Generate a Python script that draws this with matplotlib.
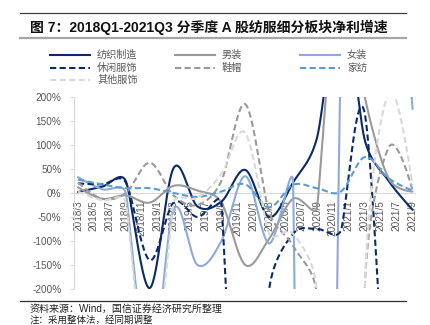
import numpy as np
import matplotlib
matplotlib.use("Agg")
import matplotlib.pyplot as plt
from matplotlib.lines import Line2D

# ---------------- data ----------------
quarters = ['2018Q1', '2018Q2', '2018Q3', '2018Q4', '2019Q1', '2019Q2', '2019Q3', '2019Q4',
            '2020Q1', '2020Q2', '2020Q3', '2020Q4', '2021Q1', '2021Q2', '2021Q3']
tick_labels = ['2018/3', '2018/5', '2018/7', '2018/9', '2018/11', '2019/1', '2019/3', '2019/5',
               '2019/7', '2019/9', '2019/11', '2020/1', '2020/3', '2020/5', '2020/7', '2020/9',
               '2020/11', '2021/1', '2021/3', '2021/5', '2021/7', '2021/9']

textile = [2, 13, 25, -198, 52, -28, -18, 48, -50, 22, 115, 400, 110, 25, -35]
menswear = [12, -12, -5, -20, 15, 5, -20, -150, -95, -12, -30, 500, 200, 30, 3]
womenswear = [33, 8, 0, -380, -35, -150, -100, 35, -105, 20, -3000, 300, 1500, 800, 175]
casual = [20, 18, 22, -140, -20, -50, -20, -800, -200, -85, -75, -78, 165, -600, -600]
shoes = [22, -12, 0, 63, -5, -25, 25, 185, -40, -110, -220, -3000, -200, 95, 5]
home = [28, 18, 10, 10, 0, -8, 3, 18, -30, 17, 10, 3, 75, 30, 5]
other = [3, -15, -20, -400, -20, -10, 40, 125, -85, -85, -210, -3000, -200, 210, 15]

series_names = ['纺织制造', '男装', '女装', '休闲服饰', '鞋帽', '家纺', '其他服饰']
series_values = [textile, menswear, womenswear, casual, shoes, home, other]
series_colors = ['#0a2a6b', '#9a9a9a', '#8eaadb', '#0a2a6b', '#9a9a9a', '#5b9bd5', '#d9d9d9']
series_dashed = [False, False, False, True, True, True, True]

# ---------------- figure ----------------
W, H = 430, 325
fig = plt.figure(figsize=(W / 100, H / 100), dpi=100)
ax_l, ax_r, ax_t, ax_b = 74, 415, 97, 289
ax = fig.add_axes([ax_l / W, 1 - ax_b / H, (ax_r - ax_l) / W, (ax_b - ax_t) / H])

xmin, xmax = -0.5, 42.3
ymin, ymax = -200, 200
ax.set_xlim(xmin, xmax)
ax.set_ylim(ymin, ymax)
sx = (ax_r - ax_l) / (xmax - xmin)
sy = (ax_b - ax_t) / (ymax - ymin)

xq = np.arange(len(quarters)) * 3.0  # months since 2018/3


def smooth(xv, yv, n=300):
    P = np.column_stack([np.asarray(xv, float) * sx, np.asarray(yv, float) * sy])
    N = len(P)
    T = np.zeros_like(P)
    for i in range(1, N - 1):
        a, b, c = P[i - 1], P[i], P[i + 1]
        d01 = np.hypot(*(b - a))
        d12 = np.hypot(*(c - b))
        d02 = np.hypot(*(c - a))
        if d02 == 0:
            continue
        f = 1 / 6
        if d02 / 6 >= min(d01, d12) / 2:
            f = min(d01, d12) / (2 * d02)
        T[i] = f * (c - a)
    t = np.linspace(0, 1, n)[:, None]
    pts = []
    for i in range(N - 1):
        p0, p3 = P[i], P[i + 1]
        p1, p2 = p0 + T[i], p3 - T[i + 1]
        B = (1 - t) ** 3 * p0 + 3 * (1 - t) ** 2 * t * p1 + 3 * (1 - t) * t ** 2 * p2 + t ** 3 * p3
        pts.append(B if i == 0 else B[1:])
    B = np.vstack(pts)
    return B[:, 0] / sx, B[:, 1] / sy


handles = {}
for name, vals, col, dashed in zip(series_names, series_values, series_colors, series_dashed):
    xs, ys = smooth(xq, vals)
    ls = (0, (3, 1.6)) if dashed else '-'
    ax.plot(xs, ys, color=col, lw=1.5, linestyle=ls, zorder=3, solid_capstyle='round')
    handles[name] = (col, ls)

# axes styling
for s in ['top', 'right']:
    ax.spines[s].set_visible(False)
ax.spines['left'].set_color('#d9d9d9')
ax.spines['bottom'].set_color('#d9d9d9')
ax.spines['bottom'].set_position(('data', 0))
ax.set_axisbelow(True)

num_font = ['Liberation Sans', 'DejaVu Sans']
yt = np.arange(-200, 201, 50)
ax.set_yticks(yt)
ax.set_yticklabels([f'{v}%' for v in yt], fontsize=7.2, color='#595959', family=num_font)
ax.tick_params(axis='y', length=3, color='#d9d9d9', pad=6)

ax.set_xticks(np.arange(len(tick_labels)) * 2)
ax.set_xticklabels(tick_labels, rotation=90, fontsize=7.2, color='#595959', family=num_font)
ax.tick_params(axis='x', length=0, pad=5)

# ---------------- title & frame lines ----------------
def hline(y, color, lw):
    fig.add_artist(Line2D([20 / W, 406 / W], [1 - y / H, 1 - y / H], color=color, lw=lw,
                          transform=fig.transFigure))

hline(13, '#404040', 0.9)
hline(38, '#a6a6a6', 1.6)
hline(301, '#303030', 0.9)

cjk = ['Liberation Sans', 'Noto Sans CJK SC']
fig.text(30 / W, 1 - 27 / H, '图 7：2018Q1-2021Q3 分季度 A 股纺服细分板块净利增速',
         fontsize=10.0, fontweight='bold', family=cjk, va='center', ha='left', color='#111111')

# ---------------- legend ----------------
leg_items = [('纺织制造', 50, 55), ('男装', 175, 55), ('女装', 300, 55),
             ('休闲服饰', 50, 68), ('鞋帽', 175, 68), ('家纺', 300, 68),
             ('其他服饰', 50, 80)]
for name, x0, y0 in leg_items:
    col, ls = handles[name]
    fig.add_artist(Line2D([x0 / W, (x0 + 40) / W], [1 - y0 / H, 1 - y0 / H], color=col, lw=1.5,
                          linestyle=ls, transform=fig.transFigure))
    fig.text((x0 + 47) / W, 1 - y0 / H, name, fontsize=7.3, family=['Noto Sans CJK SC'],
             va='center', ha='left', color='#595959')

# ---------------- source ----------------
fig.text(30 / W, 1 - 309 / H, '资料来源：Wind，国信证券经济研究所整理', fontsize=7.2,
         family=cjk, va='center', ha='left', color='#222222')
fig.text(30 / W, 1 - 319.5 / H, '注：采用整体法，经同期调整', fontsize=6.8,
         family=cjk, va='center', ha='left', color='#222222')

fig.savefig('out.png', dpi=100)
